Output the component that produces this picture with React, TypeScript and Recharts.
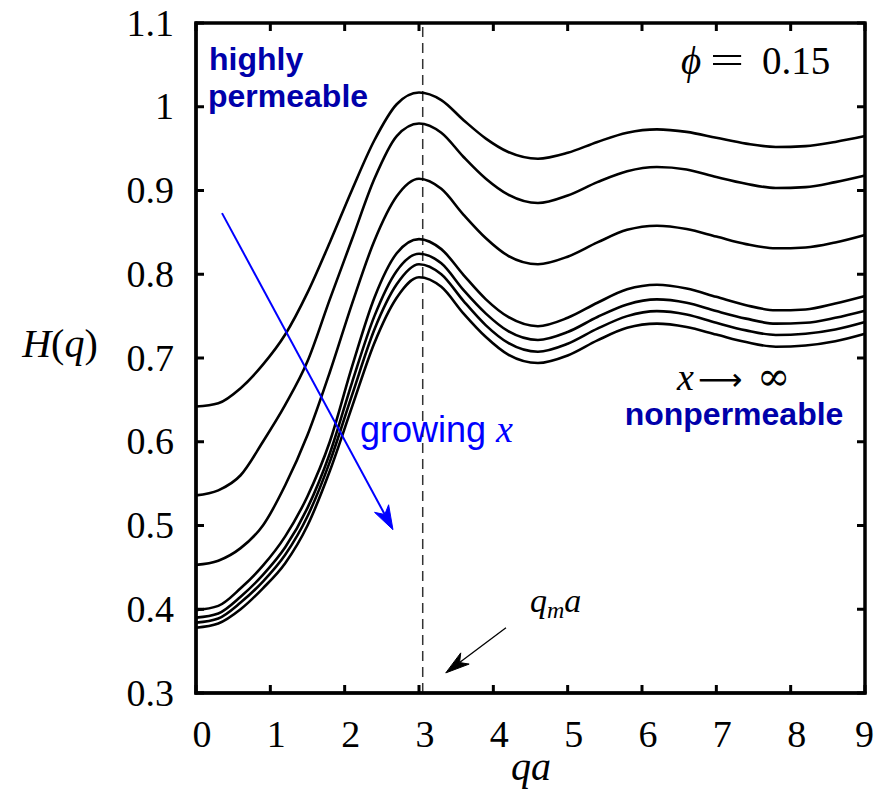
import React from 'react';
import { LineChart, Line, XAxis, YAxis, ReferenceLine, ReferenceArea } from 'recharts';

// q*a sample positions
const qaValues = [0, 0.3, 0.6, 0.9, 1.2, 1.5, 1.8, 2.1, 2.4, 2.7, 3.0, 3.3, 3.6, 3.9, 4.2, 4.6, 5.0, 5.4, 5.8, 6.2, 6.6, 7.0, 7.4, 7.8, 8.2, 8.6, 9.0];

// H(q) curves, from highly permeable (top) to nonpermeable (bottom)
const h1 = [0.642, 0.646, 0.664, 0.692, 0.728, 0.778, 0.838, 0.901, 0.960, 1.003, 1.017, 1.008, 0.984, 0.962, 0.946, 0.938, 0.945, 0.958, 0.969, 0.973, 0.970, 0.963, 0.956, 0.952, 0.953, 0.958, 0.965];
const h2 = [0.536, 0.542, 0.560, 0.600, 0.644, 0.696, 0.770, 0.842, 0.914, 0.965, 0.980, 0.969, 0.940, 0.914, 0.895, 0.885, 0.894, 0.910, 0.923, 0.928, 0.925, 0.916, 0.908, 0.903, 0.904, 0.910, 0.918];
const h3 = [0.453, 0.458, 0.473, 0.500, 0.548, 0.608, 0.683, 0.765, 0.840, 0.893, 0.914, 0.902, 0.871, 0.843, 0.822, 0.812, 0.821, 0.838, 0.853, 0.858, 0.854, 0.845, 0.836, 0.831, 0.832, 0.838, 0.847];
const h4 = [0.399, 0.404, 0.425, 0.452, 0.487, 0.535, 0.600, 0.690, 0.772, 0.825, 0.842, 0.830, 0.799, 0.770, 0.749, 0.738, 0.748, 0.766, 0.782, 0.7875, 0.783, 0.773, 0.763, 0.757, 0.758, 0.765, 0.774];
const h5 = [0.390, 0.395, 0.415, 0.441, 0.474, 0.521, 0.586, 0.671, 0.750, 0.804, 0.8245, 0.813, 0.781, 0.753, 0.732, 0.7215, 0.731, 0.749, 0.764, 0.770, 0.766, 0.756, 0.747, 0.741, 0.742, 0.748, 0.7565];
const h6 = [0.384, 0.389, 0.408, 0.433, 0.465, 0.511, 0.576, 0.656, 0.734, 0.788, 0.812, 0.800, 0.768, 0.739, 0.718, 0.7075, 0.717, 0.735, 0.750, 0.756, 0.752, 0.742, 0.733, 0.7275, 0.729, 0.734, 0.743];
const h7 = [0.378, 0.383, 0.400, 0.425, 0.455, 0.500, 0.565, 0.642, 0.718, 0.772, 0.7965, 0.785, 0.753, 0.725, 0.704, 0.694, 0.703, 0.721, 0.736, 0.741, 0.737, 0.728, 0.719, 0.7135, 0.715, 0.720, 0.729];

const xTicks = [0, 1, 2, 3, 4, 5, 6, 7, 8, 9];
const yTicks = [0.3, 0.4, 0.5, 0.6, 0.7, 0.8, 0.9, 1.0, 1.1];
const xDomain = [0, 9];
const yDomain = [0.3, 1.1];

const peakPosition = 3.05; // q_m a
const growArrow = [{ x: 0.35, y: 0.873 }, { x: 2.65, y: 0.495 }];
const peakArrow = [{ x: 4.17, y: 0.378 }, { x: 3.36, y: 0.324 }];

const seriesKeys = ['h1', 'h2', 'h3', 'h4', 'h5', 'h6', 'h7'];
const seriesValues = [h1, h2, h3, h4, h5, h6, h7];

const data = qaValues.map((q, i) => {
  const row: Record<string, number> = { qa: q };
  seriesKeys.forEach((k, j) => {
    row[k] = seriesValues[j][i];
  });
  return row;
});

// layout
const CHART_W = 867;
const CHART_H = 786;
const Y_AXIS_W = 80;
const X_AXIS_H = 60;
const MARGIN = { top: 15, right: 10, left: 108, bottom: 41 };
const PLOT_TOP = MARGIN.top;
const PLOT_LEFT = MARGIN.left + Y_AXIS_W;
const PLOT_RIGHT = CHART_W - MARGIN.right;
const PLOT_BOTTOM = CHART_H - MARGIN.bottom - X_AXIS_H;

const SERIF = '"Liberation Serif", "DejaVu Serif", serif';
const SANS = '"Liberation Sans", Arial, sans-serif';
const TICK_FS = 38;
const TICK_LEN = 8;
const FRAME_W = 3;

const fmtY = (v: number) => (Math.abs(v - 1) < 1e-9 ? '1' : v.toFixed(1));

const BottomTick = (p: any) => {
  const { x, y, payload } = p;
  const last = payload.value === xTicks[xTicks.length - 1];
  return (
    <g>
      <line x1={x} y1={y} x2={x} y2={y - TICK_LEN} stroke="#000" strokeWidth={FRAME_W} />
      <line x1={x} y1={PLOT_TOP} x2={x} y2={PLOT_TOP + TICK_LEN} stroke="#000" strokeWidth={FRAME_W} />
      <text
        x={last ? x + 9 : x + 6}
        y={y + 54}
        textAnchor={last ? 'end' : 'middle'}
        fontFamily={SERIF}
        fontSize={TICK_FS}
        fill="#000"
      >
        {payload.value}
      </text>
    </g>
  );
};

const LeftTick = (p: any) => {
  const { x, y, payload } = p;
  return (
    <g>
      <line x1={x} y1={y} x2={x + TICK_LEN} y2={y} stroke="#000" strokeWidth={FRAME_W} />
      <line x1={PLOT_RIGHT} y1={y} x2={PLOT_RIGHT - TICK_LEN} y2={y} stroke="#000" strokeWidth={FRAME_W} />
      <text x={x - 22} y={y + 12.5} textAnchor="end" fontFamily={SERIF} fontSize={TICK_FS} fill="#000">
        {fmtY(payload.value)}
      </text>
    </g>
  );
};

const makeArrow = (color: string, width: number, headLen: number, headHalf: number) => (props: any) => {
  const { x1, y1, x2, y2 } = props;
  const dx = x2 - x1;
  const dy = y2 - y1;
  const L = Math.hypot(dx, dy) || 1;
  const ux = dx / L;
  const uy = dy / L;
  const px = -uy;
  const py = ux;
  const bx = x2 - ux * headLen;
  const by = y2 - uy * headLen;
  const nx = x2 - ux * headLen * 0.72;
  const ny = y2 - uy * headLen * 0.72;
  return (
    <g>
      <line x1={x1} y1={y1} x2={nx} y2={ny} stroke={color} strokeWidth={width} />
      <polygon
        points={`${x2},${y2} ${bx + px * headHalf},${by + py * headHalf} ${nx},${ny} ${bx - px * headHalf},${by - py * headHalf}`}
        fill={color}
        stroke={color}
        strokeWidth={1}
        strokeLinejoin="miter"
      />
    </g>
  );
};

const axisLineStyle = { stroke: '#000', strokeWidth: FRAME_W, strokeLinecap: 'square' as const };

export default function App() {
  return (
    <div style={{ position: 'relative', width: CHART_W, height: CHART_H }}>
      <LineChart width={CHART_W} height={CHART_H} data={data} margin={MARGIN}>
        <XAxis
          dataKey="qa"
          type="number"
          domain={xDomain}
          ticks={xTicks}
          interval={0}
          tickLine={false}
          tickSize={0}
          tickMargin={0}
          axisLine={axisLineStyle}
          tick={BottomTick}
          height={X_AXIS_H}
        />
        <YAxis
          type="number"
          domain={yDomain}
          ticks={yTicks}
          interval={0}
          tickLine={false}
          tickSize={0}
          tickMargin={0}
          axisLine={axisLineStyle}
          tick={LeftTick}
          width={Y_AXIS_W}
        />
        <ReferenceArea
          x1={xDomain[0]}
          x2={xDomain[1]}
          y1={yDomain[0]}
          y2={yDomain[1]}
          fill="none"
          stroke="#000"
          strokeWidth={FRAME_W}
        />
        <ReferenceLine x={peakPosition} stroke="#333" strokeWidth={1.5} strokeDasharray="10 6" />
        {seriesKeys.map((k) => (
          <Line
            key={k}
            dataKey={k}
            type="monotone"
            stroke="#000"
            strokeWidth={2.6}
            dot={false}
            activeDot={false}
            isAnimationActive={false}
          />
        ))}
        <ReferenceLine segment={growArrow} shape={makeArrow('#0000ff', 2, 24, 8)} />
        <ReferenceLine segment={peakArrow} shape={makeArrow('#000', 1.3, 24, 7)} />
      </LineChart>
      <svg
        width={CHART_W}
        height={CHART_H}
        style={{ position: 'absolute', left: 0, top: 0, pointerEvents: 'none' }}
      >
        <rect
          x={PLOT_LEFT}
          y={PLOT_TOP}
          width={PLOT_RIGHT - PLOT_LEFT}
          height={PLOT_BOTTOM - PLOT_TOP}
          fill="none"
          stroke="#000"
          strokeWidth={FRAME_W}
        />
        <text x={201} y={62} fontFamily={SANS} fontWeight="bold" fontSize={32} fill="#0000aa">highly</text>
        <text x={200} y={99} fontFamily={SANS} fontWeight="bold" fontSize={32} fill="#0000aa">permeable</text>
        <text x={673} y={66} fontFamily={SERIF} fontSize={39} fill="#000" fontStyle="italic">ϕ</text>
        <text transform="translate(702,66) scale(1.55,1)" fontFamily={SERIF} fontSize={39} fill="#000">=</text>
        <text x={754} y={66} fontFamily={SERIF} fontSize={39} fill="#000">0.15</text>
        <text y={382} fontFamily={SERIF} fontSize={38} fill="#000">
          <tspan x={669} fontStyle="italic">x</tspan>
          <tspan x={690} fontFamily='"DejaVu Sans", sans-serif' fontSize={31}>⟶</tspan>
          <tspan x={749} fontFamily='"DejaVu Serif", serif' fontSize={40}>∞</tspan>
        </text>
        <text x={726} y={417} textAnchor="middle" fontFamily={SANS} fontWeight="bold" fontSize={32} fill="#0000aa">nonpermeable</text>
        <text x={352} y={434} fontFamily={SANS} fontSize={36} fill="#0000ff">
          <tspan>growing </tspan>
          <tspan fontFamily={SERIF} fontStyle="italic" fontSize={38}>x</tspan>
        </text>
        <text x={522} y={604} fontFamily={SERIF} fontSize={34} fill="#000" fontStyle="italic">
          <tspan>q</tspan>
          <tspan fontSize={24} dy={6}>m</tspan>
          <tspan dy={-6}>a</tspan>
        </text>
        <text x={52} y={349} textAnchor="middle" fontFamily={SERIF} fontSize={40} fill="#000">
          <tspan fontStyle="italic">H</tspan>
          <tspan>(</tspan>
          <tspan fontStyle="italic">q</tspan>
          <tspan>)</tspan>
        </text>
        <text x={523} y={772} textAnchor="middle" fontFamily={SERIF} fontSize={40} fill="#000" fontStyle="italic">qa</text>
      </svg>
    </div>
  );
}
